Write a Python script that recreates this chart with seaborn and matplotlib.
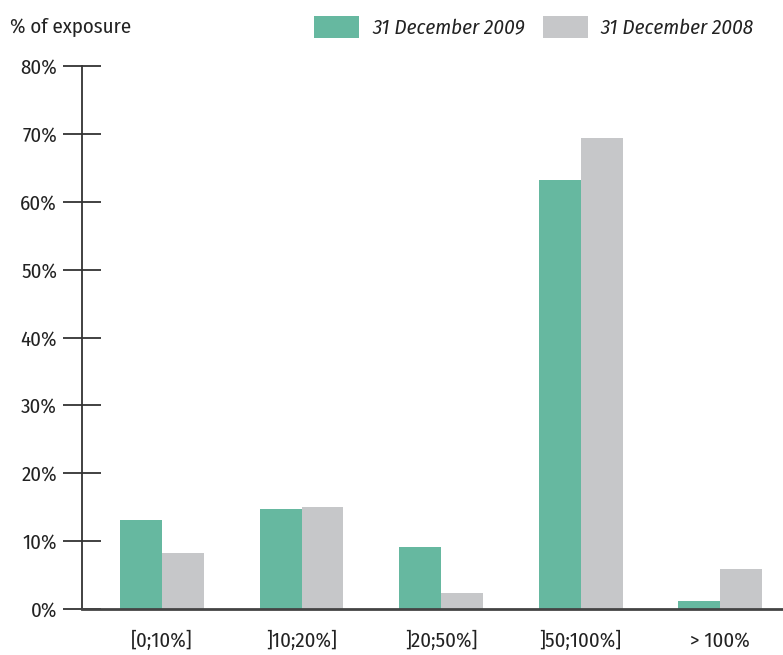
import matplotlib
matplotlib.use('Agg')
import matplotlib.pyplot as plt
import seaborn as sns
import pandas as pd

categories = ['[0;10%]', ']10;20%]', ']20;50%]', ']50;100%]', '> 100%']
series_names = ['31 December 2009', '31 December 2008']
values_2009 = [13.1, 14.8, 9.2, 63.2, 1.2]
values_2008 = [8.3, 15.1, 2.4, 69.4, 5.9]
y_ticks = [0, 10, 20, 30, 40, 50, 60, 70, 80]
y_tick_labels = ['0%', '10%', '20%', '30%', '40%', '50%', '60%', '70%', '80%']
y_title = '% of exposure'
colors = ['#66b8a0', '#c6c7c9']

sns.set_theme(style='white')
plt.rcParams['font.family'] = ['Fira Sans Condensed', 'Liberation Sans', 'DejaVu Sans']
FS = 15

df = pd.DataFrame({
    'category': categories * 2,
    'period': [s for s in series_names for _ in categories],
    'value': values_2009 + values_2008,
})

fig = plt.figure(figsize=(7.83, 6.55), dpi=100)
ax = fig.add_axes([82 / 783, 46 / 655, 701 / 783, 543 / 655])
sns.barplot(data=df, x='category', y='value', hue='period', order=categories,
            hue_order=series_names, palette=colors, width=0.6, saturation=1,
            errorbar=None, linewidth=0, ax=ax)

ax.set_ylim(0, 80)
ax.set_xlim(-0.573, 4.45)
ax.set_yticks(y_ticks)
ax.set_yticklabels(y_tick_labels)
ax.set_xlabel('')
ax.set_ylabel('')
for s in ['top', 'right']:
    ax.spines[s].set_visible(False)
ax.spines['left'].set_color('#333333')
ax.spines['left'].set_linewidth(1.3)
ax.spines['bottom'].set_color('#444444')
ax.spines['bottom'].set_linewidth(2)
txt = '#222222'
ax.tick_params(axis='y', direction='inout', length=27, width=1.3, color='#333333',
               pad=4.5, labelsize=FS, labelcolor=txt, left=True)
ax.tick_params(axis='x', length=0, pad=16, labelsize=FS, labelcolor=txt)

fig.text(10 / 783, 1 - 27 / 655, y_title, ha='left', va='center', fontsize=FS, color=txt)

em = FS / 0.72
sns.move_legend(ax, 'center right', bbox_to_anchor=(754 / 783, 1 - 27 / 655),
                bbox_transform=fig.transFigure, ncol=2, frameon=False, title=None,
                handlelength=45 / em, handleheight=26 / em,
                handletextpad=13 / em, columnspacing=18 / em,
                borderpad=0, borderaxespad=0,
                prop={'style': 'italic', 'size': FS})
for t in ax.get_legend().get_texts():
    t.set_color(txt)

fig.savefig('out.png', dpi=100)
